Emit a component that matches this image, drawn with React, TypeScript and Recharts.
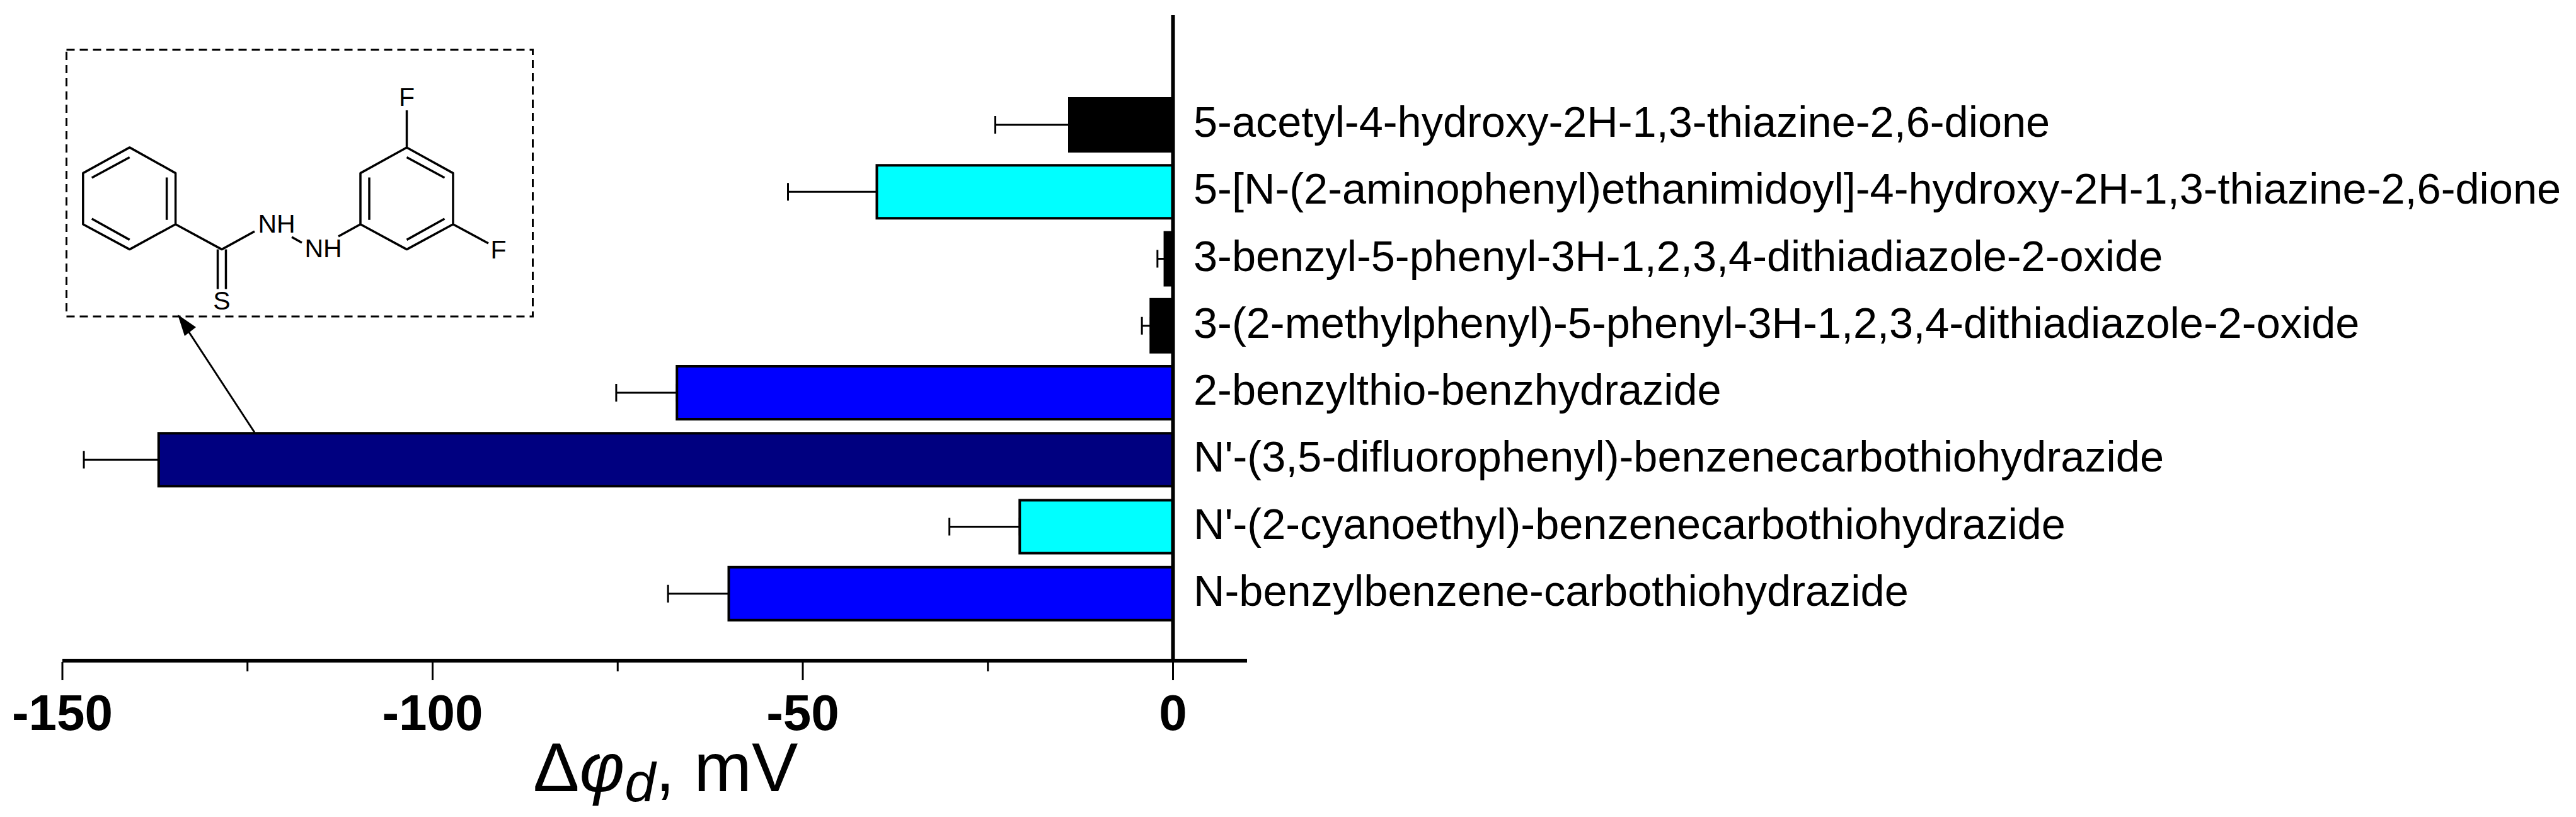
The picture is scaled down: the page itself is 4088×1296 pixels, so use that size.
import { BarChart, Bar, Cell, ErrorBar, ReferenceLine, XAxis, YAxis } from 'recharts';

const FONT = '"Liberation Sans", Arial, sans-serif';

const compounds = [
  '5-acetyl-4-hydroxy-2H-1,3-thiazine-2,6-dione',
  '5-[N-(2-aminophenyl)ethanimidoyl]-4-hydroxy-2H-1,3-thiazine-2,6-dione',
  '3-benzyl-5-phenyl-3H-1,2,3,4-dithiadiazole-2-oxide',
  '3-(2-methylphenyl)-5-phenyl-3H-1,2,3,4-dithiadiazole-2-oxide',
  '2-benzylthio-benzhydrazide',
  "N'-(3,5-difluorophenyl)-benzenecarbothiohydrazide",
  "N'-(2-cyanoethyl)-benzenecarbothiohydrazide",
  'N-benzylbenzene-carbothiohydrazide',
];
const potentialShift = [-14, -40, -1.1, -3, -67, -137, -20.7, -60];
const shiftError = [10, 12, 1, 1.2, 8.2, 10.1, 9.5, 8.2];
const barColors = ['#000000', '#00ffff', '#000000', '#000000', '#0000ff', '#000080', '#00ffff', '#0000ff'];
const xTicks = [-150, -125, -100, -75, -50, -25, 0];
const labelledTicks = [-150, -100, -50, 0];

const chartData = compounds.map((name, i) => ({
  name,
  shift: potentialShift[i],
  // one sided, the bars only show the error away from zero
  err: [shiftError[i], 0],
}));

function ValueTick({ x, y, payload }: any) {
  const major = labelledTicks.includes(payload.value);
  return (
    <g>
      <line x1={x} x2={x} y1={y} y2={y + (major ? 29 : 15)} stroke="#000" strokeWidth={3} />
      {major && (
        <text x={x} y={y + 108} textAnchor="middle" fontFamily={FONT} fontWeight="bold" fontSize={80} fill="#000">
          {payload.value}
        </text>
      )}
    </g>
  );
}

function CompoundTick({ x, y, payload }: any) {
  return (
    <text x={x - 85} y={y + 19} textAnchor="start" fontFamily={FONT} fontSize={68.5} fill="#000">
      {payload.value}
    </text>
  );
}

// structure of the highlighted compound plus the arrow pointing at it
function Inset() {
  const bonds = [
    'M205.7 233.9 L278.6 274.6 L278.6 355.7 L205.7 395.6 L131.8 355.7 L131.8 274.6 Z',
    'M145.7 282 L205.7 249.5',
    'M264.6 281.5 L264.6 348.8',
    'M145.7 347 L205.7 380.4',
    'M278.6 355.7 L352 395.6 L404 367',
    'M345.5 395.6 L345.5 458.5',
    'M358.5 395.6 L358.5 458.5',
    'M463 376 L479 385',
    'M537 375 L572 355.7',
    'M645.5 234 L719 274.6 L719 355.7 L645.5 395.6 L572 355.7 L572 274.6 Z',
    'M645.5 249.5 L705.5 282',
    'M586 281.5 L586 348.8',
    'M645.5 380.4 L705.5 347',
    'M645.5 175 L645.5 234',
    'M719 355.7 L775 386',
  ];
  const atoms = [
    { t: 'NH', x: 439, y: 369 },
    { t: 'NH', x: 513, y: 408 },
    { t: 'S', x: 352, y: 491 },
    { t: 'F', x: 645.5, y: 168 },
    { t: 'F', x: 791, y: 410 },
  ];
  return (
    <svg width={4088} height={1296} style={{ position: 'absolute', left: 0, top: 0 }}>
      <rect x={105.5} y={79} width={740} height={423} fill="none" stroke="#000" strokeWidth={3} strokeDasharray="13 8" />
      {bonds.map((d, i) => (
        <path key={i} d={d} fill="none" stroke="#000" strokeWidth={3.5} strokeLinejoin="round" />
      ))}
      {atoms.map((a, i) => (
        <text key={i} x={a.x} y={a.y} textAnchor="middle" fontFamily={FONT} fontSize={41} fill="#000">
          {a.t}
        </text>
      ))}
      <line x1={404} y1={686} x2={300} y2={527} stroke="#000" strokeWidth={3} />
      <path d="M282 499 L311 519 L293 533 Z" fill="#000" />
      <text x={846} y={1255} fontFamily={FONT} fontSize={110} fill="#000">
        <tspan>Δ</tspan>
        <tspan fontStyle="italic">φ</tspan>
        <tspan fontStyle="italic" fontSize={88} dy={16}>d</tspan>
        <tspan dy={-16}>, mV</tspan>
      </text>
    </svg>
  );
}

export default function App() {
  return (
    <div style={{ position: 'absolute', left: 0, top: 0, width: 4088, height: 1296, background: '#fff' }}>
      <BarChart
        width={4088}
        height={1296}
        data={chartData}
        layout="vertical"
        margin={{ top: 24, right: 2008, bottom: 0, left: 99 }}
      >
        <XAxis
          type="number"
          dataKey="shift"
          domain={[-150, 10]}
          ticks={xTicks}
          interval={0}
          height={248}
          tickSize={0}
          tickLine={false}
          tick={<ValueTick />}
          axisLine={{ stroke: '#000', strokeWidth: 6 }}
        />
        <YAxis
          type="category"
          dataKey="name"
          orientation="right"
          width={101}
          padding={{ top: 121, bottom: 53 }}
          interval={0}
          tickSize={0}
          tickMargin={0}
          axisLine={false}
          tickLine={false}
          tick={<CompoundTick />}
        />
        <Bar dataKey="shift" barSize={84} stroke="#000" strokeWidth={4} isAnimationActive={false}>
          {chartData.map((d, i) => (
            <Cell key={d.name} fill={barColors[i]} />
          ))}
          <ErrorBar dataKey="err" direction="x" width={14} stroke="#000" strokeWidth={3} isAnimationActive={false} />
        </Bar>
        <ReferenceLine x={0} stroke="#000" strokeWidth={6} />
      </BarChart>
      <Inset />
    </div>
  );
}
